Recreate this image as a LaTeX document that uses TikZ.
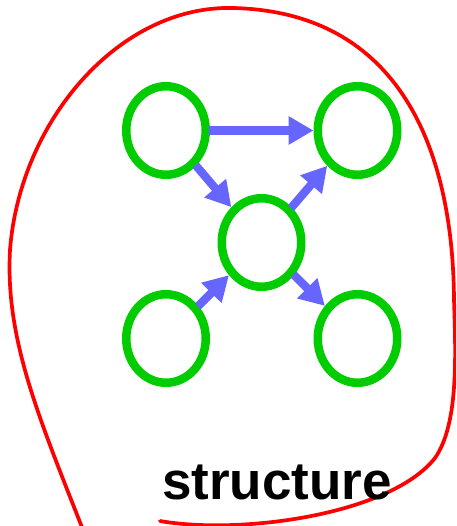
\documentclass[tikz,border=0pt]{standalone}
\usepackage{fontspec}
\setsansfont{Liberation Sans}
\usetikzlibrary{arrows.meta,shapes.geometric}
\definecolor{nodegreen}{RGB}{0,204,0}
\definecolor{edgeblue}{RGB}{102,102,255}
\definecolor{loopred}{RGB}{255,0,0}
\tikzset{
  vertex/.style={ellipse, draw=nodegreen, line width=8.5pt, inner sep=0pt,
    minimum width=79.5pt, minimum height=88.5pt},
  link/.style={draw=edgeblue, line width=8.3pt,
    -{Triangle[length=25pt,width=27pt]}, shorten <=-1pt},
  boundary/.style={draw=loopred, line width=3.7pt, line cap=round}
}
\begin{document}
\begin{tikzpicture}[x=1pt,y=-1pt]
  \useasboundingbox (0,0) rectangle (456,526);
  \begin{scope}
    \clip (0,0) rectangle (456,526);
    % hand-drawn region boundary
    \draw[boundary] (160,521)
      .. controls (240,535) and (390,515) .. (435,458)
      .. controls (458,425) and (456,360) .. (454,300)
      .. controls (453,150) and (400,12) .. (233,8)
      .. controls (120,5) and (20,120) .. (10,250)
      .. controls (5,340) and (40,420) .. (85,535);
  \end{scope}
  % graph nodes
  \node[vertex] (tl) at (166,130.5) {};
  \node[vertex] (tr) at (357.5,130.5) {};
  \node[vertex] (mid) at (261.5,242.5) {};
  \node[vertex] (bl) at (166,338.5) {};
  \node[vertex] (br) at (357.5,338.5) {};
  % directed edges
  \draw[link] (tl) -- (tr);
  \draw[link] (tl) -- (mid);
  \draw[link] (mid) -- (tr);
  \draw[link] (bl) -- (mid);
  \draw[link] (mid) -- (br);
  % caption
  \node[anchor=base, inner sep=0pt, font=\sffamily\bfseries\fontsize{53}{60}\selectfont]
    (label) at (277,499) {structure};
\end{tikzpicture}
\end{document}
